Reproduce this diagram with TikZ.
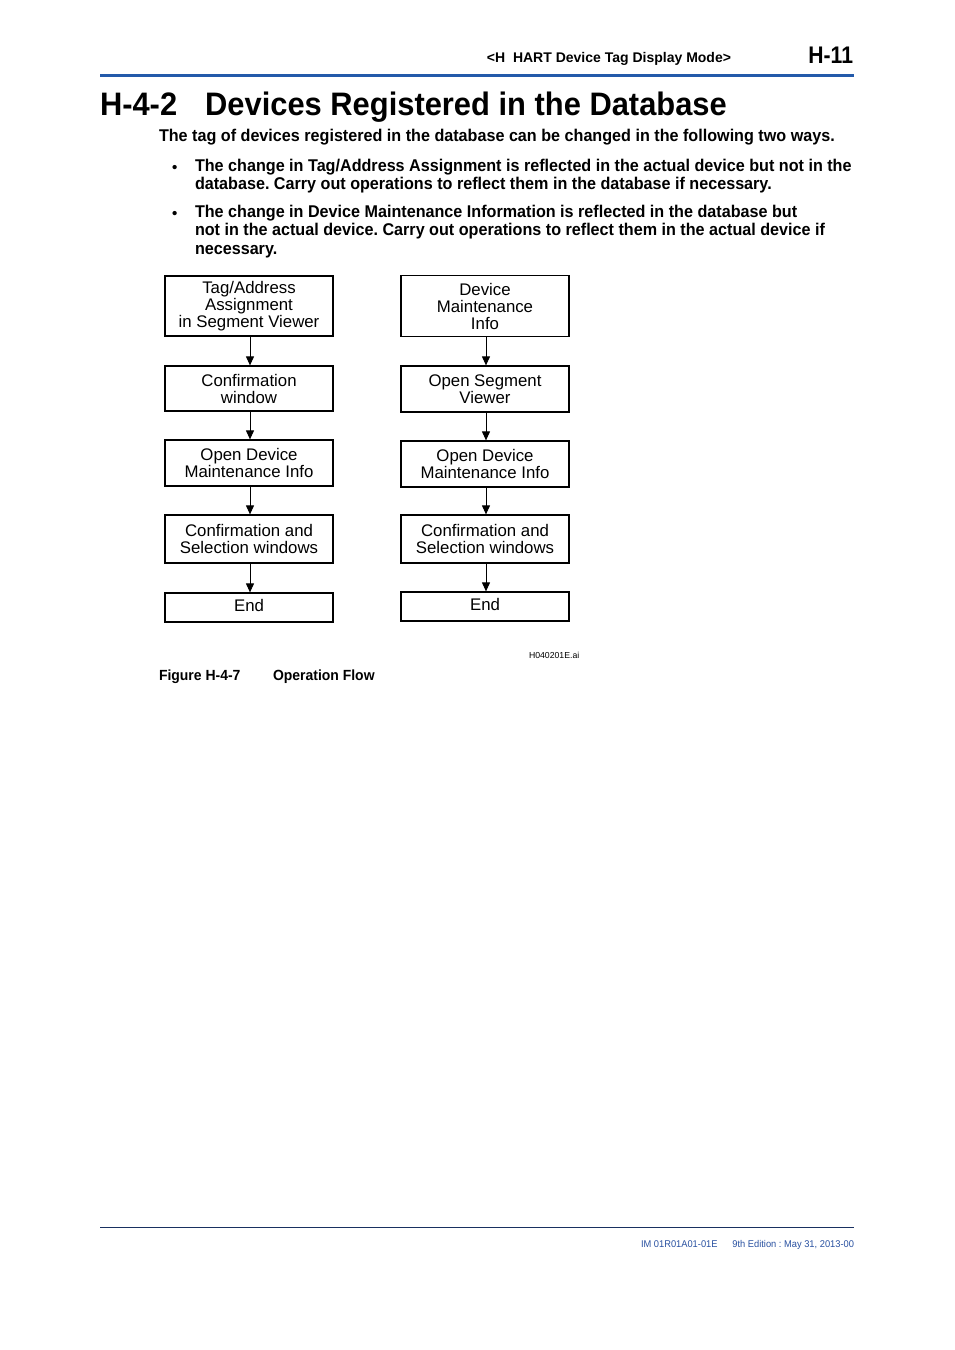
\documentclass[tikz,border=0pt]{standalone}
\usepackage{fontspec}
\setmainfont{Liberation Sans}
\newfontfamily\cond{Liberation Sans}[FakeStretch=0.95]
\newfontfamily\condh{Liberation Sans}[FakeStretch=0.88]
\usetikzlibrary{arrows.meta}
\definecolor{hdrblue}{RGB}{35,90,170}
\definecolor{ftblue}{RGB}{40,80,160}
\frenchspacing
\begin{document}
\begin{tikzpicture}[x=1pt,y=-1pt,
  txt/.style={anchor=base west,inner sep=0pt,outer sep=0pt},
  flow/.style={draw,line width=1.25pt,minimum width=168pt,align=center,inner sep=0pt,
     font=\fontsize{16.8pt}{17pt}\selectfont},
  arr/.style={line width=1pt,-{Triangle[length=9pt,width=8pt]}}]
\useasboundingbox (0,0) rectangle (954,1350);
% header
\node[txt,anchor=base east,font=\bfseries\fontsize{14pt}{16pt}\selectfont] (hdr) at (731,62) {<H\ \ HART Device Tag Display Mode>};
\node[txt,anchor=base east,font=\condh\bfseries\fontsize{24pt}{26pt}\selectfont] (pg) at (853,63) {H-11};
\draw[hdrblue,line width=3pt] (100,75) -- (854,75);
% title
\node[txt,font=\cond\bfseries\fontsize{32.5pt}{36pt}\selectfont] (title) at (100,115) {H-4-2\hspace{28pt}Devices Registered in the Database};
\node[txt,font=\cond\bfseries\fontsize{17pt}{19pt}\selectfont] (intro) at (159,141) {The tag of devices registered in the database can be changed in the following two ways.};
\node[txt,font=\bfseries\fontsize{15pt}{19pt}\selectfont] (b1) at (172,172) {\textbullet};
\node[txt,font=\bfseries\fontsize{15pt}{19pt}\selectfont] (b2) at (172,218) {\textbullet};
\node[txt,anchor=north west,align=left,font=\cond\bfseries\fontsize{17pt}{18.3pt}\selectfont] (t1) at (195,159) {The change in Tag/Address Assignment is reflected in the actual device but not in the\\database. Carry out operations to reflect them in the database if necessary.};
\node[txt,anchor=north west,align=left,font=\cond\bfseries\fontsize{17pt}{18.5pt}\selectfont] (t2) at (195,205) {The change in Device Maintenance Information is reflected in the database but\\not in the actual device. Carry out operations to reflect them in the actual device if\\necessary.};
% left flow
\node[flow,minimum height=60pt] (l1) at (249,306) {Tag/Address\\Assignment\\in Segment Viewer};
\node[flow,minimum height=45pt] (l2) at (249,388.5) {Confirmation\\window};
\node[flow,minimum height=46pt] (l3) at (249,463) {Open Device\\Maintenance Info};
\node[flow,minimum height=48pt] (l4) at (249,539) {Confirmation and\\Selection windows};
\node[flow,minimum height=29pt,text depth=4pt] (l5) at (249,607.5) {End};
% right flow
\node[flow,minimum height=61pt] (r1) at (485,306) {Device\\Maintenance\\Info};
\node[flow,minimum height=46pt] (r2) at (485,389) {Open Segment\\Viewer};
\node[flow,minimum height=46pt] (r3) at (485,464) {Open Device\\Maintenance Info};
\node[flow,minimum height=48pt] (r4) at (485,539) {Confirmation and\\Selection windows};
\node[flow,minimum height=29pt,text depth=4pt] (r5) at (485,606.5) {End};
\foreach \a/\b in {l1/l2,l2/l3,l3/l4,l4/l5,r1/r2,r2/r3,r3/r4,r4/r5}{
  \draw[arr] ([xshift=1pt]\a.south) -- ([xshift=1pt]\b.north);
}
% caption
\node[txt,font=\fontsize{8.7pt}{9pt}\selectfont] (fname) at (529,658) {H040201E.ai};
\node[txt,font=\cond\bfseries\fontsize{14.7pt}{17pt}\selectfont] (cap1) at (159,680) {Figure H-4-7};
\node[txt,font=\cond\bfseries\fontsize{14.7pt}{17pt}\selectfont] (cap2) at (273,680) {Operation Flow};
% footer
\draw[ftblue!60!black,line width=0.8pt] (100,1227) -- (854,1227);
\node[txt,text=ftblue,font=\cond\fontsize{9.8pt}{11pt}\selectfont] (f1) at (641,1247) {IM 01R01A01-01E};
\node[txt,anchor=base east,text=ftblue,font=\cond\fontsize{9.8pt}{11pt}\selectfont] (f2) at (854,1247) {9th Edition : May 31, 2013-00};
\end{tikzpicture}
\end{document}
